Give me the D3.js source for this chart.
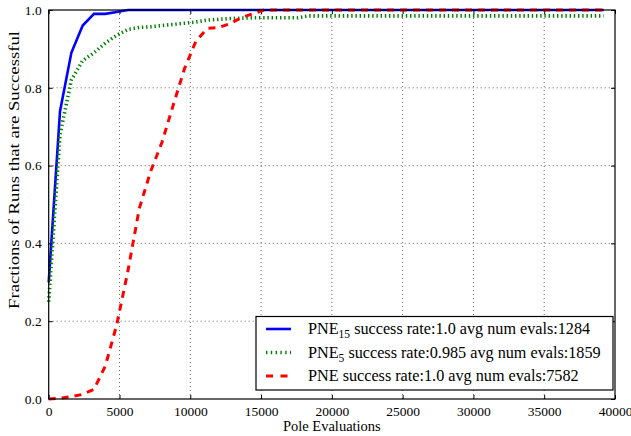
<!DOCTYPE html>
<html>
<head>
<meta charset="utf-8">
<script src="https://cdn.jsdelivr.net/npm/d3@7"></script>
<style>
  html, body { margin: 0; padding: 0; background: #fff; }
  svg text { font-family: "Liberation Serif", "Times New Roman", serif; fill: #000; }
</style>
</head>
<body>
<div id="chart"></div>
<script>
// sample points (pole evaluations)
const evals = [0, 800, 1600, 2400, 3200, 4000, 4800, 5600, 6400, 7200,
  8000, 8800, 9600, 10400, 11200, 12000, 12800, 13600, 14400, 15200,
  16000, 16800, 17600, 18400, 19200, 20000, 20800, 21600, 22400, 23200,
  24000, 24800, 25600, 26400, 27200, 28000, 28800, 29600, 30400, 31200,
  32000, 32800, 33600, 34400, 35200, 36000, 36800, 37600, 38400, 39200];

const pne15 = [0.30, 0.74, 0.89, 0.96, 0.99, 0.99, 0.995, 1, 1, 1,
  1, 1, 1, 1, 1, 1, 1, 1, 1, 1,
  1, 1, 1, 1, 1, 1, 1, 1, 1, 1,
  1, 1, 1, 1, 1, 1, 1, 1, 1, 1,
  1, 1, 1, 1, 1, 1, 1, 1, 1, 1];

const pne5 = [0.25, 0.68, 0.82, 0.87, 0.89, 0.915, 0.935, 0.95, 0.955, 0.957,
  0.96, 0.963, 0.966, 0.969, 0.974, 0.976, 0.978, 0.979, 0.98, 0.98,
  0.98, 0.98, 0.98, 0.985, 0.985, 0.985, 0.985, 0.985, 0.985, 0.985,
  0.985, 0.985, 0.985, 0.985, 0.985, 0.985, 0.985, 0.985, 0.985, 0.985,
  0.985, 0.985, 0.985, 0.985, 0.985, 0.985, 0.985, 0.985, 0.985, 0.985];

const pne = [0, 0.002, 0.006, 0.012, 0.025, 0.085, 0.19, 0.33, 0.49, 0.585,
  0.66, 0.756, 0.85, 0.92, 0.953, 0.955, 0.965, 0.98, 0.99, 1,
  1, 1, 1, 1, 1, 1, 1, 1, 1, 1,
  1, 1, 1, 1, 1, 1, 1, 1, 1, 1,
  1, 1, 1, 1, 1, 1, 1, 1, 1, 1];

const xTicks = [0, 5000, 10000, 15000, 20000, 25000, 30000, 35000, 40000];
const yTicks = [0, 0.2, 0.4, 0.6, 0.8, 1.0];

const seriesNames = ["PNE", "PNE", "PNE"];
const seriesSubs = ["15", "5", ""];
const seriesRest = [" success rate:1.0 avg num evals:1284",
                    " success rate:0.985 avg num evals:1859",
                    " success rate:1.0 avg num evals:7582"];

const W = 631, H = 436;
const m = { left: 48.7, right: 16, top: 10, bottom: 37 };

const svg = d3.select("#chart").append("svg")
  .attr("width", W).attr("height", H);

const x = d3.scaleLinear().domain([0, 40000]).range([m.left, W - m.right]);
const y = d3.scaleLinear().domain([0, 1]).range([H - m.bottom, m.top]);

// grid
const grid = svg.append("g");
grid.selectAll("line.gx").data(xTicks.slice(1, -1)).join("line")
  .attr("x1", d => x(d)).attr("x2", d => x(d))
  .attr("y1", y(0)).attr("y2", y(1))
  .attr("stroke", "#444").attr("stroke-width", 0.8).attr("stroke-dasharray", "1,3");
grid.selectAll("line.gy").data(yTicks.slice(1, -1)).join("line")
  .attr("y1", d => y(d)).attr("y2", d => y(d))
  .attr("x1", x(0)).attr("x2", x(40000))
  .attr("stroke", "#444").attr("stroke-width", 0.8).attr("stroke-dasharray", "1,3");

// inward ticks on all four sides
const tl = 4;
const axB = d3.axisBottom(x).tickValues(xTicks).tickSize(-tl).tickPadding(7).tickFormat(d3.format("d"));
const axT = d3.axisTop(x).tickValues(xTicks).tickSize(-tl).tickFormat("");
const axL = d3.axisLeft(y).tickValues(yTicks).tickSize(-tl).tickPadding(7).tickFormat(d3.format(".1f"));
const axR = d3.axisRight(y).tickValues(yTicks).tickSize(-tl).tickFormat("");

function styleAxis(g) {
  g.select(".domain").remove();
  g.selectAll("line").attr("stroke", "#000");
  g.selectAll("text").attr("font-size", 13.5).attr("font-family", null);
}
svg.append("g").attr("transform", `translate(0,${y(0)})`).call(axB).call(styleAxis);
svg.append("g").attr("transform", `translate(0,${y(1)})`).call(axT).call(styleAxis);
svg.append("g").attr("transform", `translate(${x(0)},0)`).call(axL).call(styleAxis);
svg.append("g").attr("transform", `translate(${x(40000)},0)`).call(axR).call(styleAxis);

// lines
const line = vals => d3.line().x((d, i) => x(evals[i])).y(d => y(d))(vals);
const styles = [
  { data: pne15, color: "#0000ff", width: 2.6, dash: null },
  { data: pne5, color: "#008000", width: 3.6, dash: "1.4,2.8" },
  { data: pne, color: "#ff0000", width: 3, dash: "7,6" }
];
styles.forEach(s => {
  svg.append("path").attr("d", line(s.data))
    .attr("fill", "none").attr("stroke", s.color).attr("stroke-width", s.width)
    .attr("stroke-dasharray", s.dash);
});

// frame
svg.append("rect")
  .attr("x", x(0)).attr("y", y(1))
  .attr("width", x(40000) - x(0)).attr("height", y(0) - y(1))
  .attr("fill", "none").attr("stroke", "#000").attr("stroke-width", 1.2);

// axis labels
svg.append("text").attr("x", (x(0) + x(40000)) / 2).attr("y", 431)
  .attr("text-anchor", "middle").attr("font-size", 14.5).text("Pole Evaluations");
svg.append("text").attr("transform", `translate(19,170) rotate(-90)`)
  .attr("text-anchor", "middle").attr("font-size", 14.5)
  .attr("textLength", 278).attr("lengthAdjust", "spacingAndGlyphs")
  .text("Fractions of Runs that are Successful");

// legend
const lg = svg.append("g");
lg.append("rect").attr("x", 256).attr("y", 316.5).attr("width", 357).attr("height", 73.5)
  .attr("fill", "#fff").attr("stroke", "#000").attr("stroke-width", 1.2);
const rowY = [329, 352.5, 376];
styles.forEach((s, i) => {
  lg.append("line").attr("x1", 266).attr("x2", 291).attr("y1", rowY[i]).attr("y2", rowY[i])
    .attr("stroke", s.color).attr("stroke-width", s.width)
    .attr("stroke-dasharray", i === 1 ? "1.4,3.4" : i === 2 ? "7,7.5" : null);
  const t = lg.append("text").attr("x", 308).attr("y", rowY[i] + 5).attr("font-size", 16.2);
  t.append("tspan").text(seriesNames[i]);
  if (seriesSubs[i]) {
    t.append("tspan").attr("font-size", 11.5).attr("dy", 4).text(seriesSubs[i]);
    t.append("tspan").attr("dy", -4).text(seriesRest[i]);
  } else {
    t.append("tspan").text(seriesRest[i]);
  }
});
</script>
</body>
</html>
